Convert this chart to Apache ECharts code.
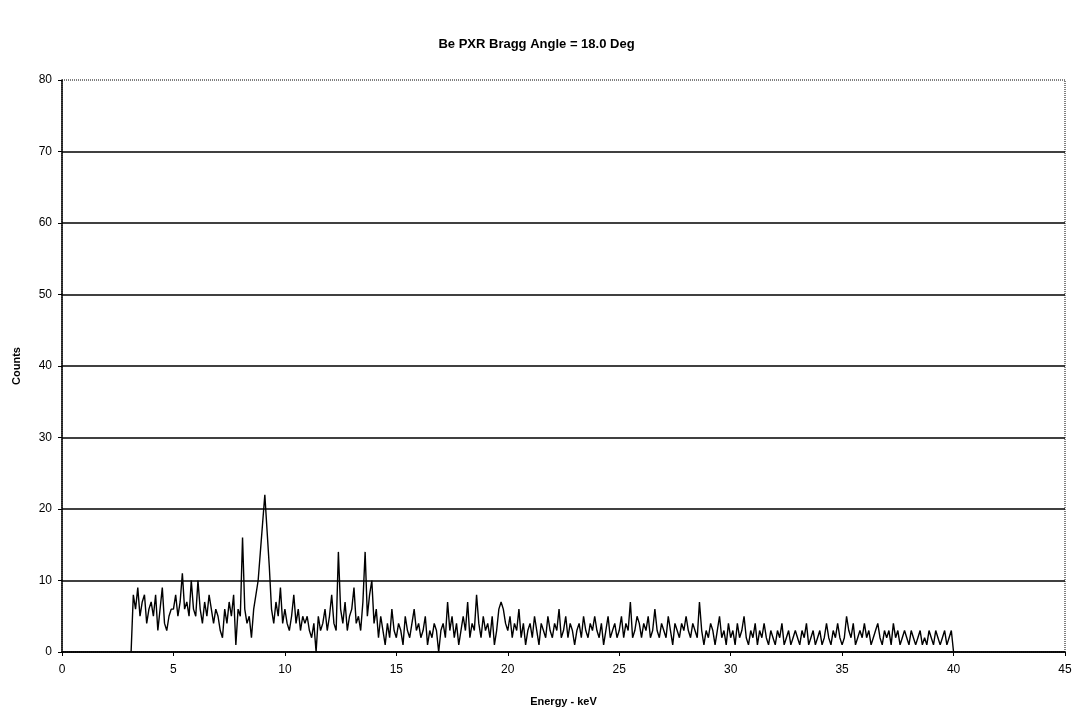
<!DOCTYPE html>
<html>
<head>
<meta charset="utf-8">
<title>Be PXR Bragg Angle = 18.0 Deg</title>
<script src="https://cdn.jsdelivr.net/npm/echarts@6/dist/echarts.min.js"></script>
<style>
  html, body { margin: 0; padding: 0; background: #fff; }
  #chart { width: 1073px; height: 717px; }
</style>
</head>
<body>
<div id="chart"></div>
<script>
  // spectrum channels: 3.1 keV to 40.0 keV, 0.1 keV per channel
  var startKeV = 3.1
  var stepKeV = 0.1
  var counts = [
    0, 8, 6, 9, 5, 7, 8, 4, 6,
    7, 5, 8, 3, 6, 9, 4, 3, 5, 6,
    6, 8, 5, 7, 11, 6, 7, 5, 10, 6,
    5, 10, 6, 4, 7, 5, 8, 6, 4, 6,
    5, 3, 2, 6, 4, 7, 5, 8, 1, 6,
    5, 16, 6, 4, 5, 2, 6, 8, 10, 14,
    18, 22, 17, 12, 6, 4, 7, 5, 9, 4,
    6, 4, 3, 5, 8, 4, 6, 3, 5, 4,
    5, 3, 2, 4, 0, 5, 3, 4, 6, 3,
    5, 8, 4, 3, 14, 6, 4, 7, 3, 5,
    6, 9, 4, 5, 3, 7, 14, 5, 8, 10,
    4, 6, 2, 5, 3, 1, 4, 2, 6, 3,
    2, 4, 3, 1, 5, 3, 2, 4, 6, 3,
    4, 2, 3, 5, 1, 3, 2, 4, 3, 0,
    3, 4, 2, 7, 3, 5, 2, 4, 1, 3,
    5, 3, 7, 2, 4, 3, 8, 4, 2, 5,
    3, 4, 2, 5, 1, 3, 6, 7, 6, 4,
    3, 5, 2, 4, 3, 6, 2, 4, 1, 3,
    4, 2, 5, 3, 1, 4, 3, 2, 5, 3,
    2, 4, 3, 6, 2, 3, 5, 2, 4, 3,
    1, 3, 4, 2, 5, 3, 2, 4, 3, 5,
    3, 2, 4, 1, 3, 5, 2, 3, 4, 2,
    3, 5, 2, 4, 3, 7, 2, 3, 5, 4,
    2, 4, 3, 5, 2, 3, 6, 3, 2, 4,
    3, 2, 5, 3, 1, 4, 3, 2, 4, 3,
    5, 3, 2, 4, 3, 2, 7, 3, 1, 3,
    2, 4, 3, 1, 3, 5, 2, 3, 1, 4,
    2, 3, 1, 4, 2, 3, 5, 2, 1, 3,
    2, 4, 1, 3, 2, 4, 2, 1, 3, 2,
    1, 3, 2, 4, 1, 2, 3, 1, 2, 3,
    2, 1, 3, 2, 4, 1, 2, 3, 1, 2,
    3, 1, 2, 4, 2, 1, 3, 2, 4, 2,
    1, 2, 5, 3, 2, 4, 1, 2, 3, 2,
    4, 2, 3, 1, 2, 3, 4, 2, 1, 3,
    2, 3, 1, 4, 2, 3, 1, 2, 3, 2,
    1, 3, 2, 1, 2, 3, 1, 2, 1, 3,
    2, 1, 3, 2, 1, 2, 3, 1, 2, 3,
    0
  ]
  var xTicks = [0, 5, 10, 15, 20, 25, 30, 35, 40, 45]
  var yTicks = [0, 10, 20, 30, 40, 50, 60, 70, 80]

  var seriesData = counts.map(function (v, i) {
    return [+(startKeV + i * stepKeV).toFixed(1), v]
  })

  // solid grid lines except the top one (drawn by the dotted border)
  var gridColors = yTicks.map(function (v) {
    return v === 80 ? 'rgba(0,0,0,0)' : '#000'
  })

  var myChart = echarts.init(document.getElementById('chart'))
  var option = {
    animation: false,
    backgroundColor: '#fff',
    textStyle: { fontFamily: 'Liberation Sans, Arial, sans-serif', color: '#000' },
    title: {
      text: 'Be PXR Bragg Angle = 18.0 Deg',
      left: 'center',
      top: 33,
      textStyle: { fontSize: 13, fontWeight: 'bold', color: '#000', fontFamily: 'Liberation Sans, Arial, sans-serif' }
    },
    grid: {
      left: 62,
      right: 8,
      top: 80,
      bottom: 65,
      outerBoundsMode: 'none',
      show: true,
      borderColor: '#000',
      borderWidth: 1,
      borderType: 'dotted'
    },
    xAxis: {
      type: 'value',
      min: xTicks[0],
      max: xTicks[xTicks.length - 1],
      interval: 5,
      name: 'Energy - keV',
      nameLocation: 'middle',
      nameGap: 44,
      nameTextStyle: { fontSize: 11, fontWeight: 'bold', color: '#000' },
      axisLine: { show: true, lineStyle: { color: '#000', width: 1.5 } },
      axisTick: { show: true, length: 4, lineStyle: { color: '#000' } },
      axisLabel: { fontSize: 12, color: '#000', margin: 12 },
      splitLine: { show: false }
    },
    yAxis: {
      type: 'value',
      min: yTicks[0],
      max: yTicks[yTicks.length - 1],
      interval: 10,
      name: 'Counts',
      nameLocation: 'middle',
      nameGap: 40,
      nameTextStyle: { fontSize: 11, fontWeight: 'bold', color: '#000' },
      axisLine: { show: true, lineStyle: { color: '#000', width: 1.5 } },
      axisTick: { show: true, length: 4, lineStyle: { color: '#000' } },
      axisLabel: { fontSize: 12, color: '#000', margin: 10 },
      splitLine: { show: true, lineStyle: { color: gridColors, width: 1.5 } }
    },
    series: [{
      type: 'line',
      data: seriesData,
      showSymbol: false,
      lineStyle: { color: '#000', width: 1.4 },
      silent: true
    }]
  }
  myChart.setOption(option)
</script>
</body>
</html>
